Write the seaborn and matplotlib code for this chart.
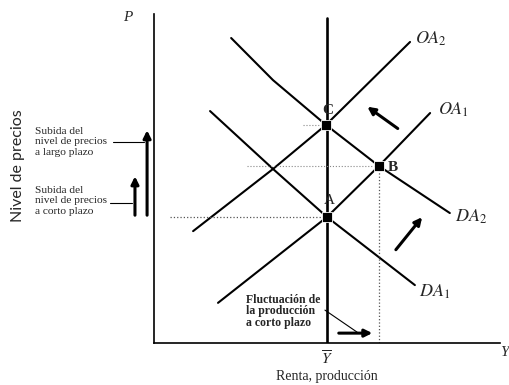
import seaborn as sns
import matplotlib.pyplot as plt
import numpy as np
import pandas as pd

# curves (output Y, price level P), arbitrary units 0-100
da1_y = [16.2, 34.4, 50.0, 75.4]
da1_p = [70.5, 52.9, 38.3, 17.6]
da2_y = [22.3, 34.4, 49.7, 65.0, 85.5]
da2_p = [92.7, 79.9, 66.3, 53.8, 39.5]
oa1_y = [18.5, 50.0, 65.0, 79.8]
oa1_p = [12.2, 38.3, 53.8, 69.9]
oa2_y = [11.3, 34.4, 49.7, 74.0]
oa2_p = [34.0, 52.9, 66.3, 91.5]

y_bar = 50.0
y_bar_p = [0, 98.8]
point_names = ['A', 'B', 'C']
point_y = [50.0, 65.0, 49.8]
point_p = [38.3, 53.8, 66.3]

curve_names = ['$DA_1$', '$DA_2$', '$OA_1$', '$OA_2$']
label_y = [76.5, 87.0, 82.0, 75.5]
label_p = [15.5, 38.5, 71.0, 92.5]

sns.set_style('white')
plt.rcParams['font.family'] = ['Liberation Serif', 'DejaVu Serif']
plt.rcParams['mathtext.fontset'] = 'stix'

fig = plt.figure(figsize=(5.09, 3.85), dpi=100)
ax = fig.add_axes([154 / 509, 42 / 385, 346 / 509, 329 / 385])
ax.set_xlim(0, 100)
ax.set_ylim(0, 100)
for s in ['top', 'right']:
    ax.spines[s].set_visible(False)
for s in ['left', 'bottom']:
    ax.spines[s].set_color('black')
    ax.spines[s].set_linewidth(1.2)
ax.set_xticks([])
ax.set_yticks([])

kw = dict(color='black', linewidth=1.5, sort=False, estimator=None, ax=ax, legend=False)
sns.lineplot(x=da1_y, y=da1_p, **kw)
sns.lineplot(x=da2_y, y=da2_p, **kw)
sns.lineplot(x=oa1_y, y=oa1_p, **kw)
sns.lineplot(x=oa2_y, y=oa2_p, **kw)
ax.plot([y_bar, y_bar], y_bar_p, color='black', linewidth=1.9)

# dotted guides
ax.plot([4.6, point_y[0]], [point_p[0]] * 2, ls=':', color='#555555', lw=0.9)
ax.plot([27.0, point_y[1]], [point_p[1]] * 2, ls=':', color='#888888', lw=0.8)
ax.plot([43.0, point_y[2]], [point_p[2]] * 2, ls=':', color='#888888', lw=0.8)
ax.plot([point_y[1]] * 2, [0, point_p[1]], ls=':', color='#555555', lw=0.9)

pts = pd.DataFrame({'Y': point_y, 'P': point_p})
sns.scatterplot(data=pts, x='Y', y='P', marker='s', s=55, color='black', ax=ax, zorder=5)
ax.text(point_y[0] + 0.8, point_p[0] + 3, 'A', fontsize=11, ha='center', va='bottom')
ax.text(point_y[1] + 2.5, point_p[1] - 0.5, 'B', fontsize=11, ha='left', va='center', fontweight='bold')
ax.text(point_y[2] + 0.5, point_p[2] + 2.5, 'C', fontsize=11, ha='center', va='bottom', fontweight='bold')

for name, lx, lp in zip(curve_names, label_y, label_p):
    ax.text(lx, lp, name, fontsize=13, ha='left', va='center', style='italic')

arr = dict(arrowstyle='-|>', color='black', lw=2.2, mutation_scale=11)
ax.annotate('', xy=(61.0, 72.3), xytext=(71.1, 64.7), arrowprops=arr)
ax.annotate('', xy=(78.0, 38.9), xytext=(69.4, 27.7), arrowprops=arr)
ax.annotate('', xy=(63.9, 3.0), xytext=(52.6, 3.0), arrowprops=arr, annotation_clip=False)
ax.plot([49.4, 58.7], [10.0, 3.3], color='black', lw=0.8)
ax.text(26.5, 9.7, 'Fluctuación de\nla producción\na corto plazo', fontsize=8.5, fontweight='bold',
        ha='left', va='center', linespacing=0.95)

# left side arrows and notes
ax.annotate('', xy=(-2.0, 65.5), xytext=(-2.0, 38.0), arrowprops=arr, annotation_clip=False)
ax.annotate('', xy=(-5.5, 51.5), xytext=(-5.5, 38.0), arrowprops=arr, annotation_clip=False)
ax.plot([-11.8, -3.0], [61.1, 61.1], color='black', lw=0.8, clip_on=False)
ax.plot([-12.7, -6.5], [42.6, 42.6], color='black', lw=0.8, clip_on=False)
ax.text(-34.4, 61.1, 'Subida del\nnivel de precios\na largo plazo', fontsize=8.2, ha='left', va='center')
ax.text(-34.4, 43.2, 'Subida del\nnivel de precios\na corto plazo', fontsize=8.2, ha='left', va='center')

ax.text(-39.3, 54, 'Nivel de precios', fontsize=11.5, rotation=90, ha='center', va='center',
        family=['Lato', 'DejaVu Sans'])
ax.text(-7.5, 98.8, 'P', fontsize=11, style='italic', ha='center', va='center')
ax.text(101.4, -3.0, 'Y', fontsize=11, style='italic', ha='center', va='center')
ax.text(y_bar, -4.8, r'$\overline{Y}$', fontsize=11, ha='center', va='center')
ax.text(y_bar, -10.3, 'Renta, producción', fontsize=10, ha='center', va='center')

fig.savefig('out.png', dpi=100, facecolor='white')
